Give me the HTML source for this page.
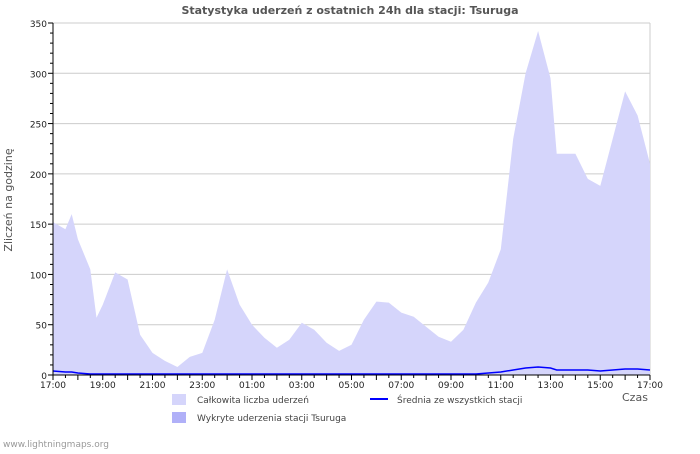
<!DOCTYPE html>
<html><head><meta charset="utf-8"><style>
body{margin:0;background:#fff;font-family:"DejaVu Sans","Liberation Sans",sans-serif}
svg text{font-family:"DejaVu Sans","Liberation Sans",sans-serif}
</style></head><body>
<svg id="c" width="700" height="450">
<text x="350" y="14" text-anchor="middle" font-size="11" font-weight="bold" fill="#555">Statystyka uderzeń z ostatnich 24h dla stacji: Tsuruga</text>
<text transform="translate(12,200) rotate(-90)" text-anchor="middle" font-size="11" fill="#555">Zliczeń na godzinę</text>
<text x="622" y="401" font-size="11" fill="#555">Czas</text>
<g id="plot"></g>
<g>
<rect x="172" y="394" width="14" height="11" fill="#d5d5fb"/>
<text x="197" y="403" font-size="9" fill="#444">Całkowita liczba uderzeń</text>
<rect x="172" y="412" width="14" height="11" fill="#b0b0f8"/>
<text x="197" y="421" font-size="9" fill="#444">Wykryte uderzenia stacji Tsuruga</text>
<line x1="370" y1="399" x2="388" y2="399" stroke="#0000ff" stroke-width="2"/>
<text x="397" y="403" font-size="9" fill="#444">Średnia ze wszystkich stacji</text>
</g>
<text x="3" y="447" font-size="9" fill="#999">www.lightningmaps.org</text>
</svg>
<script>
const times=["17:00","19:00","21:00","23:00","01:00","03:00","05:00","07:00","09:00","11:00","13:00","15:00","17:00"];
const yTicks=[0,50,100,150,200,250,300,350];
const totals=[152,145,160,135,105,57,70,102,95,40,22,14,8,18,22,55,105,70,50,37,27,35,52,45,32,24,30,55,73,72,62,58,48,38,33,45,72,92,125,235,300,342,295,220,220,195,188,235,282,258,210];
const totalHours=[0,0.5,0.75,1,1.5,1.75,2,2.5,3,3.5,4,4.5,5,5.5,6,6.5,7,7.5,8,8.5,9,9.5,10,10.5,11,11.5,12,12.5,13,13.5,14,14.5,15,15.5,16,16.5,17,17.5,18,18.5,19,19.5,20,20.25,21,21.5,22,22.5,23,23.5,24];
const avg=[4,3,3,2,1,1,1,1,1,1,1,1,1,1,1,1,1,1,1,1,1,1,1,1,1,1,1,1,1,1,1,1,1,1,1,1,1,2,3,5,7,8,7,5,5,5,4,5,6,6,5];
const NS="http://www.w3.org/2000/svg";
const X0=53,X1=650,Y0=375,Y1=23;
const x=h=>X0+(X1-X0)*h/24, y=v=>Y0-(Y0-Y1)*v/350;
const g=document.getElementById('plot');
function mk(t,a,p){const e=document.createElementNS(NS,t);for(const k in a)e.setAttribute(k,a[k]);(p||g).appendChild(e);return e;}
// grid
yTicks.forEach(v=>{
const l=mk('line',{x1:X0,x2:X1,y1:y(v),y2:y(v),stroke:'#ccc'});


const t=mk('text',{x:X0-6,y:y(v)+4,'text-anchor':'end','font-size':9,fill:'#222'});t.textContent=v;


});
mk('line',{x1:X1,x2:X1,y1:Y1,y2:Y0,stroke:'#ccc'});
// area
let d='M'+x(totalHours[0])+','+y(0);
totals.forEach((v,i)=>d+=' L'+x(totalHours[i]).toFixed(1)+','+y(v).toFixed(1));
d+=' L'+x(24)+','+y(0)+'Z';
const a=mk('path',{d:d,fill:'#d5d5fb'});


let ld='';
avg.forEach((v,i)=>ld+=(i?' L':'M')+x(totalHours[i]).toFixed(1)+','+y(v).toFixed(1));
const ln=mk('path',{d:ld,fill:'none',stroke:'#0000ff','stroke-width':1.5});


// axes
mk('line',{x1:X0,x2:X0,y1:Y1,y2:Y0,stroke:'#000'});
mk('line',{x1:X0,x2:X1,y1:Y0,y2:Y0,stroke:'#000'});
for(let v=0;v<=350;v+=10)mk('line',{x1:X0-(v%50?3:5),x2:X0,y1:y(v),y2:y(v),stroke:'#000'});
for(let h=0;h<=24;h+=0.5)mk('line',{x1:x(h),x2:x(h),y1:Y0,y2:Y0+(h%1?3:5),stroke:'#000'});
times.forEach((s,i)=>{
const t=mk('text',{x:x(i*2),y:Y0+13,'text-anchor':'middle','font-size':9,fill:'#222'});t.textContent=s;


});
</script>
</body></html>
